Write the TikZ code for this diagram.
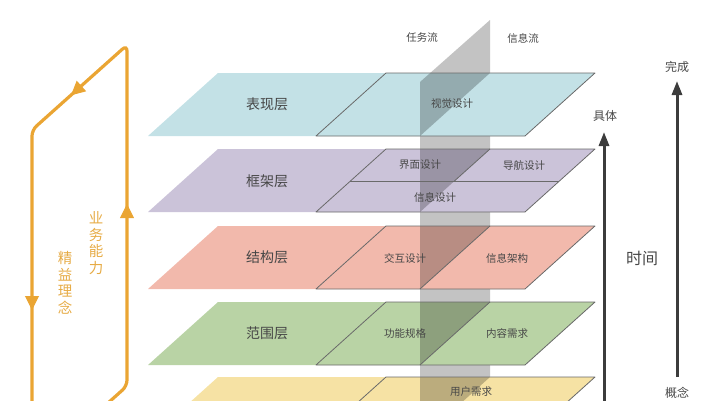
\documentclass[tikz,border=0pt]{standalone}
\usepackage{fontspec}
\newfontfamily\cjk{Noto Sans CJK SC}
\usetikzlibrary{arrows.meta}
\definecolor{Lone}{HTML}{C3E1E6}
\definecolor{Ltwo}{HTML}{CBC3D9}
\definecolor{Lthree}{HTML}{F2B9AC}
\definecolor{Lfour}{HTML}{B9D3A5}
\definecolor{Lfive}{HTML}{F6E2A4}
\definecolor{bandgray}{HTML}{C3C3C3}
\definecolor{edgegray}{HTML}{6A6A6A}
\definecolor{loopor}{HTML}{EAA533}
\definecolor{looptext}{HTML}{E6AB45}
\definecolor{txt}{HTML}{474747}
\definecolor{axis}{HTML}{3C3C3C}
\newcommand\drawlayer[2]{%
  \fill[#2] (148,{#1+63}) -- (218,#1) -- (595,#1) -- (525,{#1+63}) -- cycle;
  \begin{scope}
    \clip (490,20) -- (420,82) -- (420,420) -- (490,420) -- cycle;
    \fill[#2!76!black] (420,#1) -- (490,#1) -- (420,{#1+63}) -- cycle;
  \end{scope}
  \draw[edge] (386,#1) -- (595,#1) -- (525,{#1+63}) -- (316,{#1+63}) -- cycle;
}
\begin{document}
\begin{tikzpicture}[x=1pt,y=-1pt,
  edge/.style={draw=edgegray,line width=0.8pt,line join=round},
  lname/.style={font=\cjk\fontsize{14}{15}\selectfont,text=txt,inner sep=0pt},
  sname/.style={font=\cjk\fontsize{10.5}{12}\selectfont,text=txt,inner sep=0pt},
  rname/.style={font=\cjk\fontsize{12}{14}\selectfont,text=txt,inner sep=0pt},
  vtext/.style={font=\cjk\fontsize{14.5}{16.5}\selectfont,text=looptext,align=center,inner sep=0pt},
  loopline/.style={draw=loopor,line width=3.2pt,rounded corners=6pt},
  looparrow/.style={draw=loopor,line width=1pt,-{Triangle[length=14pt,width=14pt]}},
  axisarrow/.style={draw=axis,line width=3pt,-{Triangle[length=14pt,width=10pt]}}]
\useasboundingbox (0,0) rectangle (718,400);
\clip (0,0) rectangle (718,400);

% vertical band (flow plane)
\fill[bandgray] (490,20) -- (420,82) -- (420,420) -- (490,420) -- cycle;

% layers
\drawlayer{73}{Lone}
\drawlayer{149}{Ltwo}
\drawlayer{226}{Lthree}
\drawlayer{302}{Lfour}
\drawlayer{377}{Lfive}

% dividers
\draw[edge] (350.4,181) -- (559.4,181);
\draw[edge] (490,149) -- (454.4,181);
\draw[edge] (490,226) -- (420,289);
\draw[edge] (490,302) -- (420,365);

% layer labels
\node[lname] (l1) at (267,104) {表现层};
\node[lname] (l2) at (267,181) {框架层};
\node[lname] (l3) at (267,257) {结构层};
\node[lname] (l4) at (267,333) {范围层};
\node[sname] (s1) at (452,104) {视觉设计};
\node[sname] (s2a) at (420,165) {界面设计};
\node[sname] (s2b) at (524,165) {导航设计};
\node[sname] (s2c) at (435,197) {信息设计};
\node[sname] (s3a) at (405,258) {交互设计};
\node[sname] (s3b) at (507,258) {信息架构};
\node[sname] (s4a) at (405,333) {功能规格};
\node[sname] (s4b) at (507,333) {内容需求};
\node[sname] (s5) at (471,392) {用户需求};

% flow labels
\node[sname] (tf) at (422,38) {任务流};
\node[sname] (if) at (523,38) {信息流};

% left loop
\draw[loopline] (32,480) -- (32,130) -- (127,45) -- (127,386) -- (32,471);
\coordinate (d0) at (84,83.7);
\coordinate (d1) at (71,95.3);
\draw[looparrow] (d0) -- (d1);
\coordinate (v0) at (32,290);
\coordinate (v1) at (32,310);
\draw[looparrow] (v0) -- (v1);
\coordinate (u0) at (127,224);
\coordinate (u1) at (127,204);
\draw[looparrow] (u0) -- (u1);
\node[vtext] (yw) at (96,243) {业\\务\\能\\力};
\node[vtext] (jy) at (65,283) {精\\益\\理\\念};

% right axes
\coordinate (a0) at (604,410);
\coordinate (a1) at (604,132);
\draw[axisarrow] (a0) -- (a1);
\coordinate (b0) at (677,377);
\coordinate (b1) at (677,81);
\draw[axisarrow] (b0) -- (b1);
\node[rname] (jt) at (605,116) {具体};
\node[font=\cjk\fontsize{16}{18}\selectfont,text=txt,inner sep=0pt] (sj) at (642,258) {时间};
\node[rname] (wc) at (677,67) {完成};
\node[rname] (gn) at (677,392.5) {概念};
\end{tikzpicture}
\end{document}
